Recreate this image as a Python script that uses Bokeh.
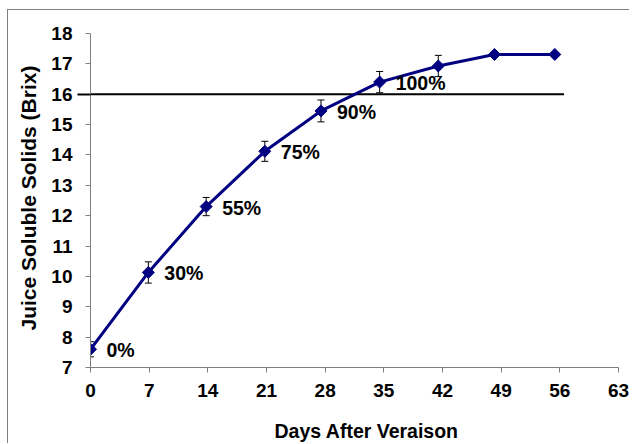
import numpy as np
from bokeh.plotting import figure
from bokeh.models import (ColumnDataSource, Whisker, TeeHead, Title,
                          FixedTicker, Range1d)
from bokeh.core.properties import value
from bokeh.embed import file_html
from bokeh.resources import INLINE

# ---- data ----
days = [0, 6.9, 13.8, 20.8, 27.5, 34.5, 41.5, 48.2, 55.4]
brix = [7.6, 10.13, 12.3, 14.12, 15.45, 16.4, 16.93, 17.31, 17.31]
err = [0.25, 0.35, 0.30, 0.33, 0.36, 0.35, 0.35, np.nan, np.nan]
pct_labels = ["0%", "30%", "55%", "75%", "90%", "100%", "", "", ""]
x_ticks = [0, 7, 14, 21, 28, 35, 42, 49, 56, 63]
y_ticks = list(range(7, 19))
threshold = 16
threshold_end = 56.5

FONT = "Liberation Sans"
NAVY = "#000080"
AXIS_GRAY = "#808080"

p = figure(width=622, height=434, output_backend="svg", toolbar_location=None,
           x_range=Range1d(0, 63), y_range=Range1d(7, 18),
           min_border_left=82, min_border_right=12, min_border_top=23,
           min_border_bottom=77)
p.styles = {"margin-left": "7px", "margin-top": "9px",
            "border-left": "1px solid #7f7f7f", "border-top": "1px solid #7f7f7f"}
p.outline_line_color = None
p.xgrid.visible = False
p.ygrid.visible = False
p.background_fill_color = "white"

for ax in (p.xaxis[0], p.yaxis[0]):
    ax.axis_line_color = AXIS_GRAY
    ax.axis_line_width = 1
    ax.major_tick_line_color = AXIS_GRAY
    ax.major_tick_in = 0
    ax.major_tick_out = 5
    ax.minor_tick_line_color = None
    ax.major_label_text_font = FONT
    ax.major_label_text_font_style = "bold"
    ax.major_label_text_font_size = "19px"
    ax.major_label_text_color = "black"
    ax.major_label_text_line_height = 1.0
    # blank spacer label, used only to pad the axis panel
    ax.axis_label = " "
    ax.axis_label_text_font_size = "1px"

p.xaxis[0].ticker = FixedTicker(ticks=x_ticks)
# the threshold line pokes out past the y axis: drawn as the single minor tick
p.yaxis[0].ticker = FixedTicker(ticks=y_ticks, minor_ticks=[threshold])
p.yaxis[0].minor_tick_line_color = "black"
p.yaxis[0].minor_tick_line_width = 2
p.yaxis[0].minor_tick_in = 0
p.yaxis[0].minor_tick_out = 13
p.xaxis[0].major_label_standoff = 11
p.yaxis[0].major_label_standoff = 5
p.xaxis[0].axis_label_standoff = 12
p.yaxis[0].axis_label_standoff = 4

src = ColumnDataSource(dict(
    x=days, y=brix,
    lower=[b - e for b, e in zip(brix, err)],
    upper=[b + e for b, e in zip(brix, err)],
    lab=pct_labels,
))

# threshold line
p.segment(x0=[0], y0=[threshold], x1=[threshold_end], y1=[threshold],
          line_color="black", line_width=2)

# error bars
wh = Whisker(base="x", lower="lower", upper="upper", source=src, dimension="height",
             line_color="black", line_width=1,
             upper_head=TeeHead(size=7, line_color="black", line_width=1),
             lower_head=TeeHead(size=7, line_color="black", line_width=1))
p.add_layout(wh)

p.line("x", "y", source=src, line_color=NAVY, line_width=3)
p.scatter("x", "y", source=src, marker="square", angle=np.pi / 4, size=8.5,
          fill_color=NAVY, line_color=NAVY)

p.text("x", "y", text="lab", source=src, x_offset=16, y_offset=1,
       text_font=value(FONT), text_font_style="bold", text_font_size="19.5px",
       text_align="left", text_baseline="middle", text_color="black")

# axis titles
p.add_layout(Title(text="Days After Veraison", text_font=FONT, text_font_style="bold",
                   text_font_size="19.5px", align="left", offset=184, standoff=4,
                   text_line_height=1.0, text_color="black"), "below")
p.add_layout(Title(text="Juice Soluble Solids (Brix)", text_font=FONT,
                   text_font_style="bold", text_font_size="21px", align="left",
                   offset=37, standoff=2, text_line_height=1.0,
                   text_color="black"), "left")

open("out.html", "w").write(file_html(p, INLINE))
